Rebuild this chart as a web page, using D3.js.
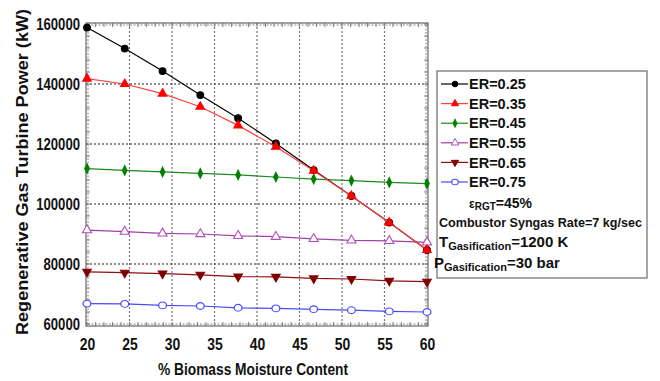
<!DOCTYPE html>
<html>
<head>
<meta charset="utf-8">
<script src="https://cdn.jsdelivr.net/npm/d3@7"></script>
<style>
  html, body { margin: 0; padding: 0; background: #fff; }
  svg { display: block; font-family: "Liberation Sans", Arial, sans-serif; }
</style>
</head>
<body>
<svg id="chart" width="660" height="381"></svg>
<script>
// Moisture content (%) at which each case was evaluated
const moisture = [20, 24.44, 28.89, 33.33, 37.78, 42.22, 46.67, 51.11, 55.56, 60];

// Regenerative gas turbine power (kW) for each equivalence ratio
const er025 = [158800, 151800, 144300, 136300, 128600, 120200, 111300, 102700, 93800, 84700];
const er035 = [141800, 140000, 136800, 132400, 126200, 119100, 111100, 102700, 93800, 84700];
const er045 = [111800, 111200, 110700, 110200, 109700, 109000, 108300, 107800, 107200, 106800];
const er055 = [91300, 90800, 90200, 90000, 89400, 89100, 88400, 87900, 87700, 87200];
const er065 = [77400, 77100, 76800, 76400, 75800, 75700, 75200, 75000, 74400, 74100];
const er075 = [66800, 66700, 66200, 66000, 65400, 65200, 64900, 64600, 64200, 64000];

const xTicks = [20, 25, 30, 35, 40, 45, 50, 55, 60];
const yTicks = [60000, 80000, 100000, 120000, 140000, 160000];

const seriesNames = ["ER=0.25", "ER=0.35", "ER=0.45", "ER=0.55", "ER=0.65", "ER=0.75"];
const seriesValues = [er025, er035, er045, er055, er065, er075];

const styles = [
  { line: "#000000", fill: "#000000", stroke: "#000000", symbol: d3.symbolCircle, size: 36 },
  { line: "#ff4040", fill: "#ff0000", stroke: "#ff0000", symbol: d3.symbolTriangle, size: 32 },
  { line: "#1a8c1a", fill: "#008000", stroke: "#008000", symbol: d3.symbolDiamond, size: 18, sy: 1.2 },
  { line: "#a040a8", fill: "#ffffff", stroke: "#b050b8", symbol: d3.symbolTriangle, size: 36 },
  { line: "#8b1010", fill: "#800000", stroke: "#800000", symbol: d3.symbolTriangle, size: 32, flip: true },
  { line: "#4a4aff", fill: "#ffffff", stroke: "#4a4aff", symbol: d3.symbolCircle, size: 36, sx: 1.15 }
];

const svg = d3.select("#chart");

const x = d3.scaleLinear().domain([20, 60]).range([87, 427]);
const y = d3.scaleLinear().domain([60000, 160000]).range([324, 24]);

const pLeft = x(20) - 1, pRight = x(60) + 1;
const pTop = y(160000) - 1, pBottom = y(60000) + 2;

// Gridlines
const grid = svg.append("g");
grid.selectAll("line.gx").data(xTicks.slice(1, -1)).join("line")
  .attr("x1", d => x(d)).attr("x2", d => x(d))
  .attr("y1", pTop).attr("y2", pBottom)
  .attr("stroke", "#777").attr("stroke-width", 1.2).attr("stroke-dasharray", "2,2");
grid.selectAll("line.gy").data(yTicks.slice(1, -1)).join("line")
  .attr("x1", pLeft).attr("x2", pRight)
  .attr("y1", d => y(d)).attr("y2", d => y(d))
  .attr("stroke", "#222").attr("stroke-width", 1).attr("stroke-dasharray", "2,2");

// Inner dotted frame with minor ticks
const inner = svg.append("g").attr("stroke", "#888").attr("stroke-width", 1);
[[pLeft + 2, pTop + 2, pRight - 2, pTop + 2], [pLeft + 2, pBottom - 2, pRight - 2, pBottom - 2],
 [pLeft + 2, pTop + 2, pLeft + 2, pBottom - 2], [pRight - 2, pTop + 2, pRight - 2, pBottom - 2]]
  .forEach(c => inner.append("line")
    .attr("x1", c[0]).attr("y1", c[1]).attr("x2", c[2]).attr("y2", c[3])
    .attr("stroke-dasharray", "2,1.5"));

const minorX = d3.range(20, 61, 1);
const minorY = d3.range(60000, 160001, 4000);
inner.selectAll("line.mxt").data(minorX).join("line")
  .attr("x1", d => x(d)).attr("x2", d => x(d)).attr("y1", pTop).attr("y2", pTop + 4);
inner.selectAll("line.mxb").data(minorX).join("line")
  .attr("x1", d => x(d)).attr("x2", d => x(d)).attr("y1", pBottom).attr("y2", pBottom - 4);
inner.selectAll("line.myl").data(minorY).join("line")
  .attr("y1", d => y(d)).attr("y2", d => y(d)).attr("x1", pLeft).attr("x2", pLeft + 4);
inner.selectAll("line.myr").data(minorY).join("line")
  .attr("y1", d => y(d)).attr("y2", d => y(d)).attr("x1", pRight).attr("x2", pRight - 4);

// Outer frame
svg.append("rect")
  .attr("x", pLeft).attr("y", pTop)
  .attr("width", pRight - pLeft).attr("height", pBottom - pTop)
  .attr("fill", "none").attr("stroke", "#666").attr("stroke-width", 1.2);

// Axes (labels only, frame drawn above)
const xAxis = svg.append("g")
  .attr("transform", `translate(0,${pBottom + 6})`)
  .call(d3.axisBottom(x).tickValues(xTicks).tickSize(0).tickFormat(d3.format("d")));
xAxis.select(".domain").remove();
xAxis.selectAll("text").attr("font-size", 17).attr("font-weight", "bold")
  .attr("font-family", "Liberation Sans, Arial, sans-serif").attr("fill", "#111").attr("dy", "0.9em");

const yAxis = svg.append("g")
  .attr("transform", `translate(${pLeft - 3},0)`)
  .call(d3.axisLeft(y).tickValues(yTicks).tickSize(0).tickFormat(d3.format("d")));
yAxis.select(".domain").remove();
yAxis.selectAll("text").attr("font-size", 16).attr("font-weight", "bold")
  .attr("font-family", "Liberation Sans, Arial, sans-serif").attr("fill", "#111").attr("dy", "0.36em");

// Series lines and markers
const line = d3.line().x((d, i) => x(moisture[i])).y(d => y(d));

function markerPath(st) {
  return d3.symbol().type(st.symbol).size(st.size)();
}
function markerTransform(st, cx, cy) {
  const sx = st.sx || 1, sy = (st.sy || 1) * (st.flip ? -1 : 1);
  return `translate(${cx},${cy}) scale(${sx},${sy})`;
}

// draw order so that the red curve sits above black on the shared segment
const order = [5, 4, 3, 2, 0, 1];
order.forEach(k => {
  const st = styles[k];
  const vals = seriesValues[k];
  const g = svg.append("g");
  g.append("path").datum(vals).attr("d", line)
    .attr("fill", "none").attr("stroke", st.line).attr("stroke-width", 1.2);
  g.selectAll("path.m").data(vals).join("path")
    .attr("d", markerPath(st))
    .attr("transform", (d, i) => markerTransform(st, x(moisture[i]), y(d)))
    .attr("fill", st.fill).attr("stroke", st.stroke).attr("stroke-width", 1.1);
});

// Legend
const lg = svg.append("g");
lg.append("rect").attr("x", 437).attr("y", 71).attr("width", 210).attr("height", 207)
  .attr("fill", "#fff").attr("stroke", "#777").attr("stroke-width", 1.3);

seriesNames.forEach((name, k) => {
  const st = styles[k];
  const cy = 84 + k * 19.6;
  lg.append("line").attr("x1", 441).attr("x2", 468).attr("y1", cy).attr("y2", cy)
    .attr("stroke", st.line).attr("stroke-width", 1.2);
  lg.append("path").attr("d", markerPath({ ...st, size: st.size * 0.7 }))
    .attr("transform", markerTransform(st, 455, cy))
    .attr("fill", st.fill).attr("stroke", st.stroke).attr("stroke-width", 1);
  lg.append("text").attr("x", 469).attr("y", cy).attr("dy", "0.36em")
    .attr("font-size", 14.5).attr("font-weight", "bold").attr("fill", "#111").text(name);
});

const note = (xx, yy) => lg.append("text").attr("x", xx).attr("y", yy)
  .attr("font-size", 14).attr("font-weight", "bold").attr("fill", "#111");

const eps = note(469, 208);
eps.append("tspan").attr("font-size", 12).text("ε");
eps.append("tspan").attr("font-size", 10).attr("dy", 2).text("RGT");
eps.append("tspan").attr("dy", -2).text("=45%");

note(439, 227).attr("font-size", 13.5).attr("textLength", 203).attr("lengthAdjust", "spacingAndGlyphs")
  .text("Combustor Syngas Rate=7 kg/sec");

const tg = note(439, 247);
tg.append("tspan").attr("font-size", 15).text("T");
tg.append("tspan").attr("font-size", 11).attr("dy", 3).text("Gasification");
tg.append("tspan").attr("font-size", 15).attr("dy", -3).text("=1200 K");

const pg = note(434, 268);
pg.append("tspan").attr("font-size", 15).text("P");
pg.append("tspan").attr("font-size", 11).attr("dy", 3).text("Gasification");
pg.append("tspan").attr("font-size", 15).attr("dy", -3).text("=30 bar");

// Axis titles
svg.append("text").attr("x", 253).attr("y", 375)
  .attr("text-anchor", "middle").attr("font-size", 16).attr("font-weight", "bold")
  .attr("fill", "#111").attr("textLength", 190).attr("lengthAdjust", "spacingAndGlyphs")
  .text("% Biomass Moisture Content");

svg.append("text").attr("transform", "translate(28,172) rotate(-90)")
  .attr("text-anchor", "middle").attr("font-size", 16.5).attr("font-weight", "bold")
  .attr("fill", "#111").attr("textLength", 326).attr("lengthAdjust", "spacingAndGlyphs")
  .text("Regenerative Gas Turbine Power (kW)");

// Narrow the tick lettering a little, as in the original plotting style
function squeeze(sel, f) {
  sel.each(function () {
    const w = this.getComputedTextLength();
    d3.select(this).attr("textLength", w * f).attr("lengthAdjust", "spacingAndGlyphs");
  });
}
squeeze(xAxis.selectAll("text"), 0.82);
squeeze(yAxis.selectAll("text"), 0.82);
</script>
</body>
</html>
